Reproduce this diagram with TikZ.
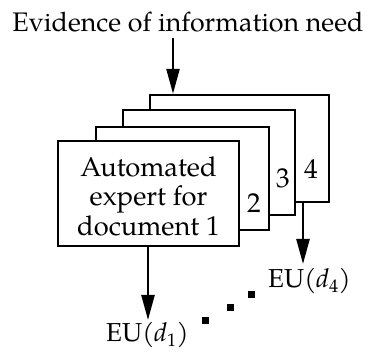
\documentclass[tikz,border=0pt]{standalone}
\usepackage{fontspec}
\setmainfont{TeX Gyre Pagella}
\usetikzlibrary{arrows.meta}
\begin{document}
\begin{tikzpicture}[x=1pt,y=-1pt,
  expertbox/.style={draw=black,fill=white,line width=2.4pt,rectangle,inner sep=0pt},
  flow/.style={line width=2.4pt,-{Triangle[length=25pt,width=13pt]}},
  txt/.style={inner sep=0pt,font=\fontsize{26}{29}\selectfont},
  boxtxt/.style={inner sep=0pt,font=\fontsize{27.3}{29.5}\selectfont},
  dotsq/.style={fill=black,draw=none,minimum size=7pt,inner sep=0pt,rectangle}]
  \useasboundingbox (0,0) rectangle (367,352);

  % title
  \node[txt,anchor=base,font=\fontsize{26.8}{30}\selectfont] (title) at (188,32) {Evidence of information need};
  \coordinate (src) at (173,38);

  % stack of expert boxes, back to front
  \node[expertbox,minimum width=179pt,minimum height=107pt] (b4) at (239.5,148.5) {};
  \node[expertbox,minimum width=172pt,minimum height=105pt] (b3) at (209,162.5) {};
  \node[expertbox,minimum width=173pt,minimum height=103pt] (b2) at (182.5,178.5) {};
  \node[expertbox,minimum width=181pt,minimum height=105pt] (b1) at (148.5,193.5) {};
  \node[boxtxt,align=center] (lbl) at (148.5,196) {Automated\\expert for\\document 1};

  \node[boxtxt] (n2) at (254,203) {2};
  \node[boxtxt] (n3) at (283,178) {3};
  \node[boxtxt] (n4) at (311,169) {4};

  % outputs
  \node[txt,anchor=base west] (eu1) at (106,342) {EU(\textit{d}\textsubscript{1})};
  \node[txt,anchor=base west] (eu4) at (268,288) {EU(\textit{d}\textsubscript{4})};
  \coordinate (t1) at (148,320);
  \coordinate (t4) at (303,264);

  \draw[flow] (src) -- (src |- b4.north);
  \draw[flow] (b1.south -| t1) -- (t1);
  \draw[flow] (b4.south -| t4) -- (t4);

  % ellipsis between outputs
  \node[dotsq] (d1) at (205,321) {};
  \node[dotsq] (d2) at (230,308) {};
  \node[dotsq] (d3) at (251,295) {};
\end{tikzpicture}
\end{document}
